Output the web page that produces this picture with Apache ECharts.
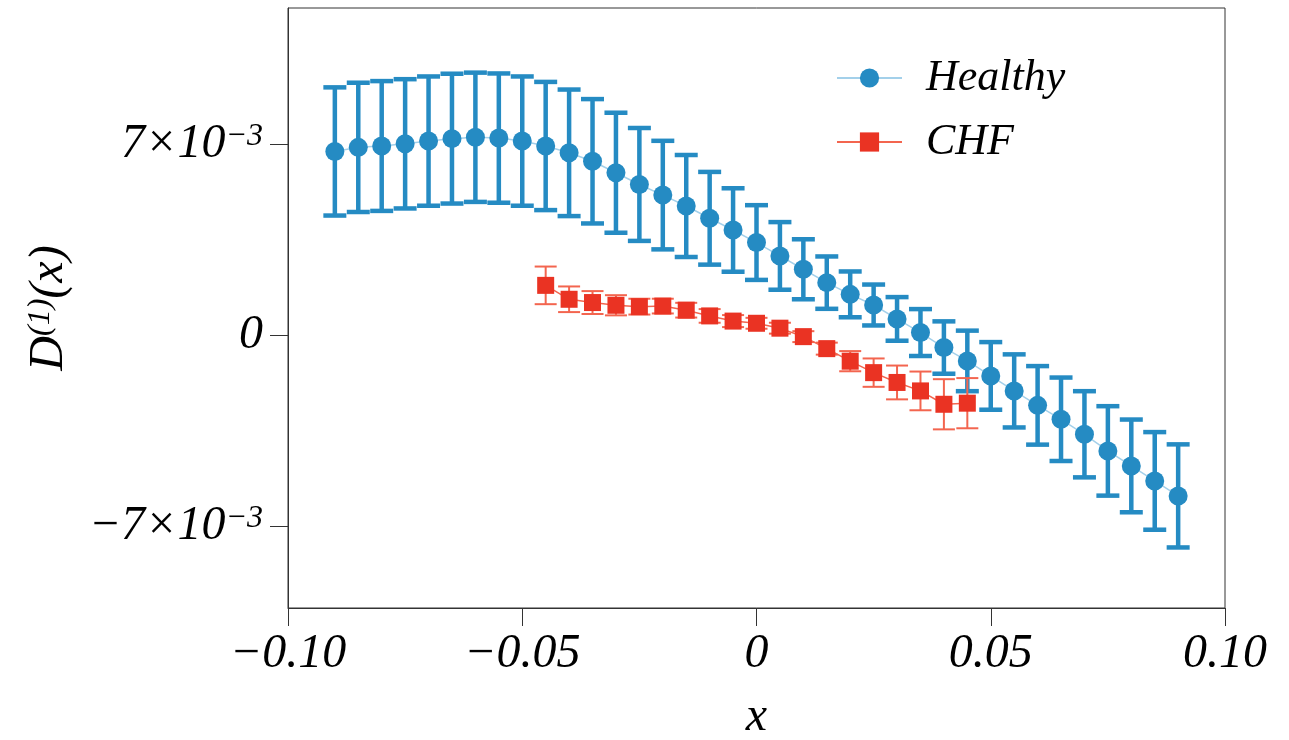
<!DOCTYPE html>
<html>
<head>
	<meta charset="utf-8">
	<title>D1 healthy vs CHF</title>
	<script src="https://cdn.jsdelivr.net/npm/echarts@6/dist/echarts.min.js"></script>
	<style>
		html, body { margin: 0; padding: 0; background: #fff; }
		#main { width: 1289px; height: 740px; }
	</style>
</head>
<body>
<div id="main"></div>
<script type="text/javascript">
// values are in units of 1e-3
var healthyX = [-0.09, -0.085, -0.08, -0.075, -0.07, -0.065, -0.06, -0.055, -0.05, -0.045,
	-0.04, -0.035, -0.03, -0.025, -0.02, -0.015, -0.01, -0.005, 0, 0.005,
	0.01, 0.015, 0.02, 0.025, 0.03, 0.035, 0.04, 0.045, 0.05, 0.055,
	0.06, 0.065, 0.07, 0.075, 0.08, 0.085, 0.09];
var healthyY = [6.74, 6.89, 6.94, 7.02, 7.12, 7.21, 7.26, 7.23, 7.12, 6.94,
	6.69, 6.38, 5.96, 5.53, 5.14, 4.74, 4.29, 3.86, 3.40, 2.91,
	2.42, 1.93, 1.50, 1.11, 0.60, 0.10, -0.45, -0.94, -1.49, -2.04,
	-2.57, -3.08, -3.63, -4.24, -4.79, -5.34, -5.89];
var healthyErr = [2.35, 2.37, 2.38, 2.37, 2.37, 2.38, 2.37, 2.37, 2.37, 2.35,
	2.32, 2.28, 2.20, 2.07, 1.99, 1.87, 1.70, 1.53, 1.37, 1.24,
	1.10, 0.96, 0.84, 0.75, 0.80, 0.86, 0.96, 1.11, 1.24, 1.34,
	1.44, 1.53, 1.58, 1.64, 1.70, 1.79, 1.89];

var chfX = [-0.045, -0.04, -0.035, -0.03, -0.025, -0.02, -0.015, -0.01, -0.005, 0,
	0.005, 0.01, 0.015, 0.02, 0.025, 0.03, 0.035, 0.04, 0.045];
var chfY = [1.83, 1.32, 1.20, 1.10, 1.05, 1.07, 0.92, 0.71, 0.52, 0.44,
	0.26, -0.05, -0.49, -0.95, -1.37, -1.73, -2.04, -2.53, -2.49];
var chfErr = [0.69, 0.47, 0.42, 0.37, 0.29, 0.27, 0.27, 0.25, 0.22, 0.20,
	0.20, 0.20, 0.22, 0.37, 0.52, 0.62, 0.71, 0.92, 0.92];

var xTicks = [-0.1, -0.05, 0, 0.05, 0.1];
var xTickLabels = ['\u22120.10', '\u22120.05', '0', '0.05', '0.10'];
var yTicks = [-7, 0, 7];
var yTickLabels = ['{m|\u22127\u00d710}{s|\u22123}', '{m|0}', '{m|7\u00d710}{s|\u22123}'];

var serif = '"Liberation Serif", "DejaVu Serif", serif';
var blue = '#258bc3';
var blueLine = '#a3d0ea';
var red = '#ea3323';
var redErr = '#f3654f';

function pts(xs, ys) {
	return xs.map(function (x, i) { return [x, ys[i]]; });
}
function bars(xs, ys, es) {
	return xs.map(function (x, i) { return [x, ys[i] - es[i], ys[i] + es[i]]; });
}
// error bars drawn through the axes
function errRender(color, width, cap) {
	return function (params, api) {
		var x = api.value(0);
		var lo = api.coord([x, api.value(1)]);
		var hi = api.coord([x, api.value(2)]);
		var st = { stroke: color, lineWidth: width };
		return {
			type: 'group',
			children: [
				{ type: 'line', shape: { x1: lo[0], y1: lo[1], x2: hi[0], y2: hi[1] }, style: st },
				{ type: 'line', shape: { x1: lo[0] - cap, y1: lo[1], x2: lo[0] + cap, y2: lo[1] }, style: st },
				{ type: 'line', shape: { x1: hi[0] - cap, y1: hi[1], x2: hi[0] + cap, y2: hi[1] }, style: st }
			]
		};
	};
}

var myChart = echarts.init(document.getElementById('main'));
myChart.setOption({
	animation: false,
	backgroundColor: '#fff',
	grid: {
		left: 288, right: 64, top: 8, bottom: 132,
		show: true, borderColor: '#333', borderWidth: 1,
		outerBoundsMode: 'none'
	},
	legend: {
		orient: 'vertical',
		left: 831, top: 50,
		itemWidth: 65, itemHeight: 24, itemGap: 18,
		data: ['Healthy', 'CHF'],
		textStyle: { fontFamily: serif, fontStyle: 'italic', fontSize: 44, lineHeight: 46, color: '#000', padding: [0, 0, 0, 19] }
	},
	xAxis: {
		type: 'value', min: -0.1, max: 0.1, interval: 0.05,
		name: 'x', nameLocation: 'middle', nameGap: 85,
		nameTextStyle: { fontFamily: serif, fontStyle: 'italic', fontSize: 48, color: '#000' },
		axisLine: { onZero: false, lineStyle: { color: '#333', width: 1 } },
		axisTick: { length: 18, lineStyle: { color: '#333' }, customValues: xTicks },
		splitLine: { show: false },
		axisLabel: {
			customValues: xTicks, margin: 22,
			fontFamily: serif, fontStyle: 'italic', fontSize: 48, color: '#000',
			formatter: function (v) { return xTickLabels[xTicks.indexOf(Math.round(v * 100) / 100)]; }
		}
	},
	yAxis: {
		type: 'value', min: -10, max: 12,
		name: '{m|D}{s|(1)}{m|(x)}', nameLocation: 'middle', nameRotate: 90, nameGap: 215,
		nameTextStyle: {
			color: '#000',
			rich: {
				m: { fontFamily: serif, fontStyle: 'italic', fontSize: 48, lineHeight: 48, color: '#000' },
				s: { fontFamily: serif, fontStyle: 'italic', fontSize: 32, lineHeight: 28, verticalAlign: 'top', color: '#000' }
			}
		},
		axisLine: { onZero: false, lineStyle: { color: '#333', width: 1 } },
		axisTick: { length: 18, lineStyle: { color: '#333' }, customValues: yTicks },
		splitLine: { show: false },
		axisLabel: {
			customValues: yTicks, margin: 25,
			formatter: function (v) { return yTickLabels[yTicks.indexOf(Math.round(v))]; },
			rich: {
				m: { fontFamily: serif, fontStyle: 'italic', fontSize: 48, lineHeight: 48, color: '#000' },
				s: { fontFamily: serif, fontStyle: 'italic', fontSize: 32, lineHeight: 26, verticalAlign: 'top', color: '#000' }
			}
		}
	},
	series: [
		{
			name: 'Healthy err', type: 'custom', z: 1,
			renderItem: errRender(blue, 4.5, 11.5),
			encode: { x: 0, y: [1, 2] },
			data: bars(healthyX, healthyY, healthyErr)
		},
		{
			name: 'Healthy', type: 'line', z: 2,
			data: pts(healthyX, healthyY),
			symbol: 'circle', symbolSize: 19,
			itemStyle: { color: blue },
			lineStyle: { color: blueLine, width: 1.5 }
		},
		{
			name: 'CHF err', type: 'custom', z: 3,
			renderItem: errRender(redErr, 2, 11),
			encode: { x: 0, y: [1, 2] },
			data: bars(chfX, chfY, chfErr)
		},
		{
			name: 'CHF', type: 'line', z: 4,
			data: pts(chfX, chfY),
			symbol: 'rect', symbolSize: 17,
			itemStyle: { color: red },
			lineStyle: { color: redErr, width: 1.5 }
		}
	]
});
</script>
</body>
</html>
